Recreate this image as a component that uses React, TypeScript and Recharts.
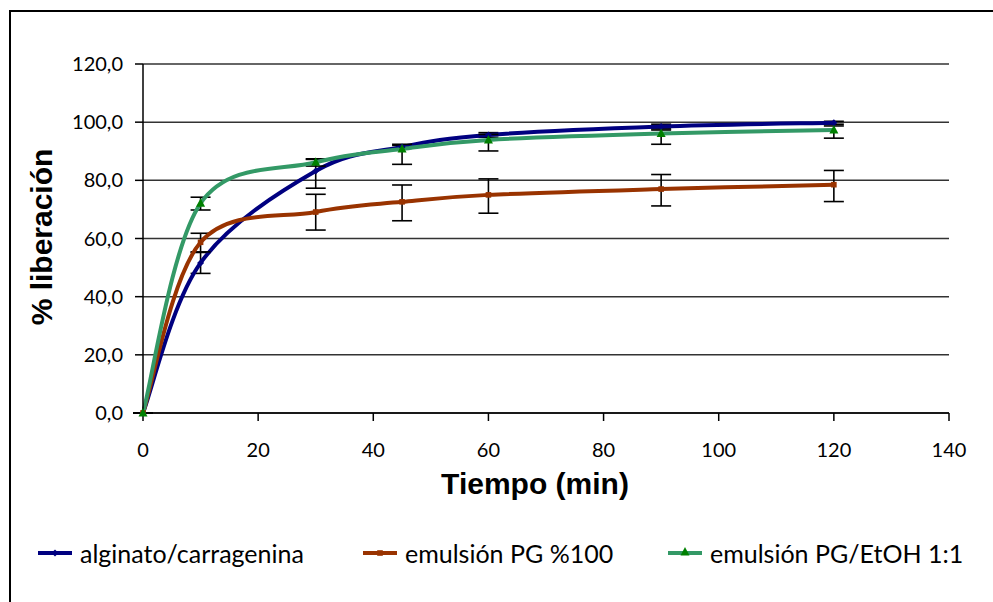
import React from 'react';
import {
  LineChart,
  Line,
  XAxis,
  YAxis,
  CartesianGrid,
  ErrorBar,
  Legend,
} from 'recharts';

// tiempos de muestreo (min)
const TIEMPOS = [0, 10, 30, 45, 60, 90, 120];

// % liberación por formulación
const ALGINATO = [0, 51.6, 83.2, 91.5, 95.6, 98.5, 99.8];
const ALGINATO_ERR_INF = [0, 3.6, 5.9, 0.5, 0.8, 0.8, 0.5];
const ALGINATO_ERR_SUP = [0, 3.6, 4.0, 0.5, 0.8, 0.8, 0.5];

const PG100 = [0, 58.7, 69.1, 72.6, 75.0, 77.0, 78.5];
const PG100_ERR_INF = [0, 3.3, 6.2, 6.5, 6.3, 5.8, 5.8];
const PG100_ERR_SUP = [0, 3.1, 6.1, 5.8, 5.5, 5.0, 4.9];

const PG_ETOH = [0, 72.1, 86.2, 90.8, 93.9, 96.1, 97.3];
const PG_ETOH_ERR_INF = [0, 2.3, 1.3, 5.3, 3.8, 3.7, 2.8];
const PG_ETOH_ERR_SUP = [0, 2.1, 1.2, 1.6, 1.9, 1.2, 1.4];

const X_TICKS = [0, 20, 40, 60, 80, 100, 120, 140];
const Y_TICKS = [0, 20, 40, 60, 80, 100, 120];

const SERIES_NAMES = ['alginato/carragenina', 'emulsión PG %100', 'emulsión PG/EtOH 1:1'];

const data = TIEMPOS.map((t, i) => ({
  t,
  alg: ALGINATO[i],
  algErr: [ALGINATO_ERR_INF[i], ALGINATO_ERR_SUP[i]],
  pg: PG100[i],
  pgErr: [PG100_ERR_INF[i], PG100_ERR_SUP[i]],
  etoh: PG_ETOH[i],
  etohErr: [PG_ETOH_ERR_INF[i], PG_ETOH_ERR_SUP[i]],
}));

const AZUL = '#000080';
const MARRON = '#993300';
const VERDE = '#339966';
const VERDE_MARCA = '#008000';

const TICK_FONT = 'Lato, "Open Sans", sans-serif';
const TITLE_FONT = '"Liberation Sans", Arial, sans-serif';

// Excel-like smoothing (Catmull-Rom with 1/6 control offsets)
const excelCurve = (context: any) => {
  let pts: number[][] = [];
  return {
    areaStart() {},
    areaEnd() {},
    lineStart() {
      pts = [];
    },
    point(x: number, y: number) {
      pts.push([+x, +y]);
    },
    lineEnd() {
      const n = pts.length;
      if (!n) return;
      context.moveTo(pts[0][0], pts[0][1]);
      for (let i = 0; i < n - 1; i++) {
        const p0 = pts[Math.max(i - 1, 0)];
        const p1 = pts[i];
        const p2 = pts[i + 1];
        const p3 = pts[Math.min(i + 2, n - 1)];
        context.bezierCurveTo(
          p1[0] + (p2[0] - p0[0]) / 6,
          p1[1] + (p2[1] - p0[1]) / 6,
          p2[0] - (p3[0] - p1[0]) / 6,
          p2[1] - (p3[1] - p1[1]) / 6,
          p2[0],
          p2[1]
        );
      }
    },
  };
};

const Diamond = ({ cx, cy, color }: any) => (
  <path d={`M${cx},${cy - 3.5}L${cx + 3.5},${cy}L${cx},${cy + 3.5}L${cx - 3.5},${cy}Z`} fill={color} />
);
const Square = ({ cx, cy, color }: any) => (
  <rect x={cx - 2.8} y={cy - 2.8} width={5.6} height={5.6} fill={color} />
);
const Triangle = ({ cx, cy, color }: any) => (
  <path d={`M${cx},${cy - 5}L${cx + 4.5},${cy + 3.5}L${cx - 4.5},${cy + 3.5}Z`} fill={color} />
);

const renderDiamond = (p: any) => <Diamond key={`d${p.index}`} cx={p.cx} cy={p.cy} color={AZUL} />;
const renderSquare = (p: any) => <Square key={`s${p.index}`} cx={p.cx} cy={p.cy} color={MARRON} />;
const renderTriangle = (p: any) => <Triangle key={`t${p.index}`} cx={p.cx} cy={p.cy} color={VERDE_MARCA} />;

const LEGEND_ITEMS = [
  { name: SERIES_NAMES[0], color: AZUL, mark: 'diamond', x: 38 },
  { name: SERIES_NAMES[1], color: MARRON, mark: 'square', x: 363 },
  { name: SERIES_NAMES[2], color: VERDE, mark: 'triangle', x: 668 },
];

const CustomLegend = () => (
  <div style={{ position: 'relative', height: 0 }}>
    {LEGEND_ITEMS.map((it) => (
      <div key={it.name} style={{ position: 'absolute', left: it.x, top: 537, height: 32, whiteSpace: 'nowrap' }}>
        <svg width={36} height={32} style={{ position: 'absolute', left: 0, top: 0 }}>
          <line x1={0} x2={34} y1={16} y2={16} stroke={it.color} strokeWidth={4} />
          {it.mark === 'diamond' && <Diamond cx={17} cy={16} color={AZUL} />}
          {it.mark === 'square' && <Square cx={17} cy={16} color={MARRON} />}
          {it.mark === 'triangle' && <Triangle cx={17} cy={15} color={VERDE_MARCA} />}
        </svg>
        <span
          style={{
            position: 'absolute',
            left: 42,
            top: 0,
            lineHeight: '32px',
            fontFamily: TICK_FONT,
            fontSize: 25,
            color: '#000',
          }}
        >
          {it.name}
        </span>
      </div>
    ))}
  </div>
);

const fmtY = (v: number) => v.toFixed(1).replace('.', ',');

export default function App() {
  return (
    <div style={{ position: 'absolute', left: 0, top: 0, width: 993, height: 602, background: '#fff', overflow: 'hidden' }}>
      <div
        style={{
          position: 'absolute',
          left: 9,
          top: 10,
          width: 1100,
          height: 700,
          borderLeft: '2px solid #000',
          borderTop: '2px solid #000',
        }}
      />
      <LineChart
        width={993}
        height={602}
        data={data}
        margin={{ top: 64, right: 44, left: 0, bottom: 0 }}
        style={{ position: 'absolute', left: 0, top: 0 }}
      >
        <CartesianGrid vertical={false} stroke="#333" strokeWidth={1.5} />
        <XAxis
          dataKey="t"
          type="number"
          domain={[0, 140]}
          ticks={X_TICKS}
          height={189}
          tickSize={8}
          tickMargin={22}
          stroke="#000"
          strokeWidth={1.5}
          tick={{ fontSize: 20, fontFamily: TICK_FONT, fill: '#000' }}
          label={{
            content: () => (
              <text x={535} y={494} textAnchor="middle" fontFamily={TITLE_FONT} fontWeight="bold" fontSize={30} fill="#000">
                Tiempo (min)
              </text>
            ),
          }}
        />
        <YAxis
          type="number"
          domain={[0, 120]}
          ticks={Y_TICKS}
          width={143}
          tickSize={8}
          tickMargin={12}
          tickFormatter={fmtY}
          stroke="#000"
          strokeWidth={1.5}
          tick={{ fontSize: 20, fontFamily: TICK_FONT, fill: '#000' }}
          label={{
            content: () => (
              <text
                transform="translate(52, 237) rotate(-90)"
                textAnchor="middle"
                fontFamily={TITLE_FONT}
                fontWeight="bold"
                fontSize={30}
                fill="#000"
              >
                % liberación
              </text>
            ),
          }}
        />
        <Legend content={<CustomLegend />} wrapperStyle={{ left: 0, top: 0, width: 993, height: 0 }} />
        <Line
          name={SERIES_NAMES[0]}
          dataKey="alg"
          type={excelCurve as any}
          stroke={AZUL}
          strokeWidth={4}
          dot={renderDiamond}
          activeDot={false}
          isAnimationActive={false}
        >
          <ErrorBar dataKey="algErr" width={10} stroke="#000" strokeWidth={1.6} direction="y" isAnimationActive={false} />
        </Line>
        <Line
          name={SERIES_NAMES[1]}
          dataKey="pg"
          type={excelCurve as any}
          stroke={MARRON}
          strokeWidth={4}
          dot={renderSquare}
          activeDot={false}
          isAnimationActive={false}
        >
          <ErrorBar dataKey="pgErr" width={10} stroke="#000" strokeWidth={1.6} direction="y" isAnimationActive={false} />
        </Line>
        <Line
          name={SERIES_NAMES[2]}
          dataKey="etoh"
          type={excelCurve as any}
          stroke={VERDE}
          strokeWidth={4}
          dot={renderTriangle}
          activeDot={false}
          isAnimationActive={false}
        >
          <ErrorBar dataKey="etohErr" width={10} stroke="#000" strokeWidth={1.6} direction="y" isAnimationActive={false} />
        </Line>
      </LineChart>
    </div>
  );
}
